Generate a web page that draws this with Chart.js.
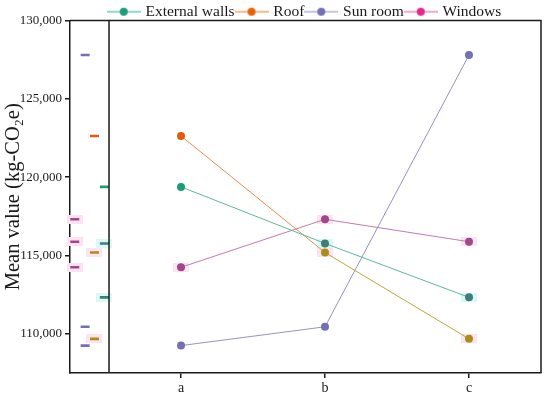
<!DOCTYPE html>
<html>
<head>
<meta charset="utf-8">
<script src="https://cdn.jsdelivr.net/npm/chart.js@4"></script>
<style>
  html, body { margin: 0; padding: 0; background: #fff; }
  #wrap { width: 550px; height: 396px; }
</style>
</head>
<body>
<div id="wrap"><canvas id="chart"></canvas></div>
<script>
// data
const categories = ['a', 'b', 'c'];
const externalWalls = [119380, 115770, 112330];
const roof = [122630, 115190, 109680];
const sunRoom = [109250, 110450, 127800];
const windowsVals = [114250, 117310, 115880];
const yTicks = [110000, 115000, 120000, 125000, 130000];

const font = 'Liberation Serif, Times New Roman, serif';
const ink = '#1a1a1a';
const pink = '#fde2f3';
const cyan = '#d9f8f6';

// styling per series
const series = [
  { name: 'External walls', values: externalWalls, rugX: 0.468, line: '#5cb99b',
    points: ['#1b9e77', '#3d7e78', '#3d7e78'], halo: [null, cyan, cyan],
    legendLine: '#6fcdab', legendDot: '#1b9e77' },
  { name: 'Roof', values: roof, rugX: 0.399, line: '#ee8a4c', line2: '#bba63c',
    points: ['#e25c0c', '#ad8e14', '#ad8e14'], halo: [null, pink, pink],
    legendLine: '#f4a36c', legendDot: '#e8620a' },
  { name: 'Sun room', values: sunRoom, rugX: 0.334, line: '#9591c9',
    points: ['#7570b3', '#7570b3', '#7570b3'], halo: [null, null, null],
    legendLine: '#b5b2dd', legendDot: '#7570b3' },
  { name: 'Windows', values: windowsVals, rugX: 0.262, line: '#c47ab0',
    points: ['#a1488b', '#a1488b', '#a1488b'], halo: [pink, pink, pink],
    legendLine: '#f18dc2', legendDot: '#e7298a' }
];

function legendIcon(lineColor, dotColor) {
  const c = document.createElement('canvas');
  c.width = 34; c.height = 12;
  const g = c.getContext('2d');
  g.strokeStyle = lineColor; g.lineWidth = 1.5;
  g.beginPath(); g.moveTo(0, 6); g.lineTo(34, 6); g.stroke();
  g.fillStyle = dotColor;
  g.beginPath(); g.arc(17, 6, 4, 0, Math.PI * 2); g.fill();
  return c;
}

function haloRect(color) {
  const c = document.createElement('canvas');
  c.width = 16; c.height = 9;
  const g = c.getContext('2d');
  g.fillStyle = color; g.fillRect(0, 0, 16, 9);
  return c;
}

const datasets = [];

// faint boxes behind some points
series.forEach(function(s) {
  const pts = [], rugPts = [], styles = [];
  s.values.forEach(function(v, i) {
    if (!s.halo[i]) return;
    const img = haloRect(s.halo[i]);
    pts.push({ x: i + 1, y: v });
    rugPts.push({ x: s.rugX, y: v });
    styles.push(img);
  });
  if (!pts.length) return;
  datasets.push({ type: 'scatter', data: pts.concat(rugPts), pointStyle: styles.concat(styles),
    pointRadius: 8, order: 10, clip: false, showLine: false });
});

// rug strip on the left
series.forEach(function(s) {
  datasets.push({
    type: 'scatter',
    data: s.values.map(v => ({ x: s.rugX, y: v })),
    pointStyle: 'line', pointRadius: 4.5, pointBorderWidth: 2.6,
    pointBorderColor: s.points, pointBackgroundColor: s.points,
    showLine: false, order: 5
  });
});

// main lines
series.forEach(function(s) {
  datasets.push({
    type: 'line',
    label: s.name,
    data: s.values.map((v, i) => ({ x: i + 1, y: v })),
    borderColor: s.line, borderWidth: 1,
    segment: s.line2 ? { borderColor: ctx => ctx.p0DataIndex === 0 ? s.line : s.line2 } : {},
    pointRadius: 4, pointBorderWidth: 0,
    pointBackgroundColor: s.points,
    order: 0
  });
});

const framePlugin = {
  id: 'frame',
  afterLayout(chart) {
    chart.legend.top += 9;
    chart.legend.bottom += 9;
  },
  afterDatasetsDraw(chart) {
    const { ctx, chartArea: a, scales } = chart;
    const xd = scales.x.getPixelForValue(0.5);
    ctx.save();
    ctx.strokeStyle = ink; ctx.lineWidth = 1.5;
    ctx.beginPath();
    ctx.moveTo(a.left, a.top); ctx.lineTo(a.right, a.top); ctx.lineTo(a.right, a.bottom);
    ctx.moveTo(xd, a.top); ctx.lineTo(xd, a.bottom);
    ctx.stroke();
    ctx.restore();
  }
};

new Chart(document.getElementById('chart'), {
  type: 'line',
  data: { datasets: datasets },
  plugins: [framePlugin],
  options: {
    responsive: true,
    maintainAspectRatio: false,
    animation: false,
    layout: { padding: { top: -8, right: 5, left: 0, bottom: 0 } },
    plugins: {
      tooltip: { enabled: false },
      legend: {
        position: 'top',
        fullSize: false,
        labels: {
          usePointStyle: true,
          pointStyleWidth: 28,
          padding: 3,
          color: ink,
          font: { family: font, size: 15.5 },
          generateLabels: function() {
            return series.map(function(s) {
              return { text: s.name, pointStyle: legendIcon(s.legendLine, s.legendDot),
                fillStyle: s.legendDot, strokeStyle: s.legendDot, lineWidth: 0, hidden: false, fontColor: ink };
            });
          }
        }
      }
    },
    scales: {
      x: {
        type: 'linear',
        min: 0.229, max: 3.5,
        afterBuildTicks: function(s) { s.ticks = categories.map((c, i) => ({ value: i + 1 })); },
        ticks: { callback: v => categories[v - 1], color: ink, font: { family: font, size: 14 },
          padding: 2, autoSkip: false, maxRotation: 0 },
        grid: { drawOnChartArea: false, tickLength: 5, color: ink, lineWidth: 1.5 },
        border: { color: ink, width: 1.5 },
        afterFit: function(s) { s.height = 23; }
      },
      y: {
        min: 107500, max: 130000,
        afterBuildTicks: function(s) { s.ticks = yTicks.map(v => ({ value: v })); },
        ticks: { callback: v => v.toLocaleString('en-US'), color: ink, font: { family: font, size: 13 }, padding: 3 },
        grid: { drawOnChartArea: false, tickLength: 5, color: ink, lineWidth: 1.5 },
        border: { color: ink, width: 1.5 },
        title: { display: true, text: 'Mean value (kg-CO₂e)', color: ink,
          font: { family: font, size: 20.5 }, padding: { top: 1, bottom: 0 } },
        afterFit: function(s) { s.width = 70; }
      }
    }
  }
});
</script>
</body>
</html>
